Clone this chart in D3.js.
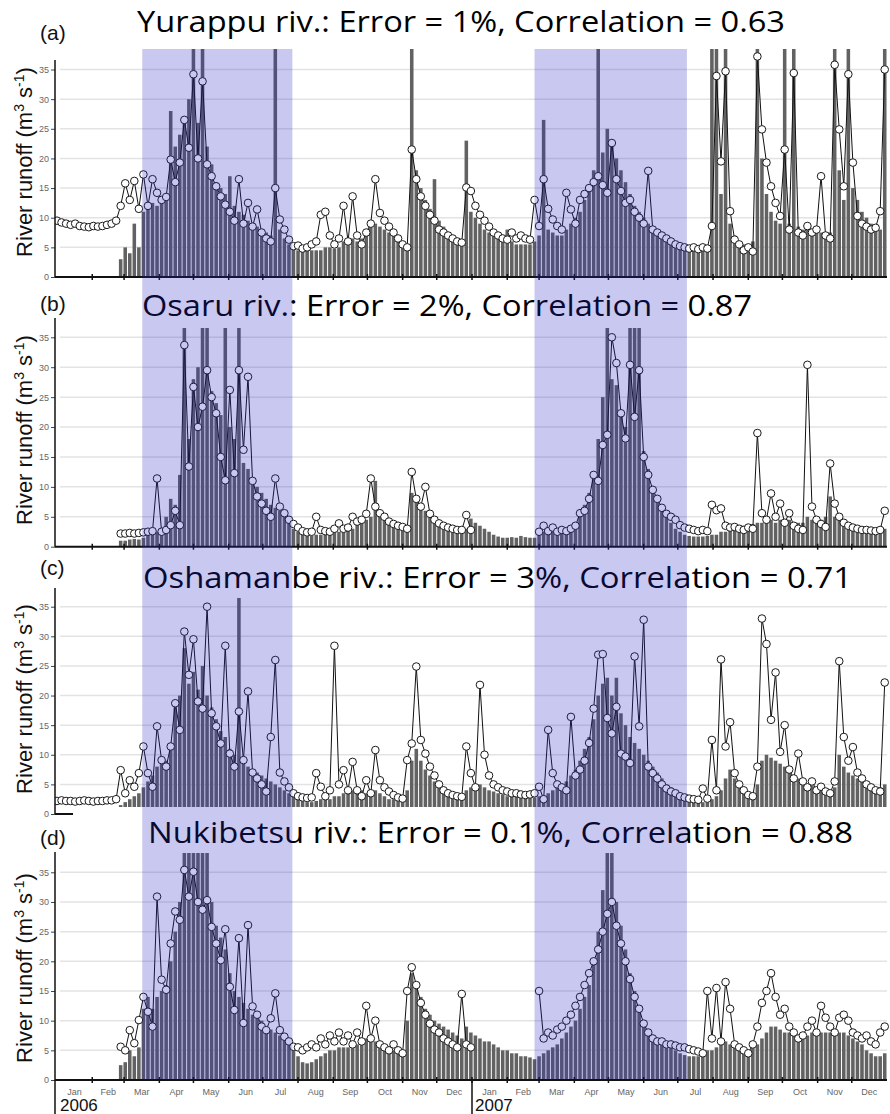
<!DOCTYPE html>
<html>
<head lang="en">
  <meta charset="UTF-8">
  <title>River runoff, observed vs modelled</title>
  <script src="https://cdn.jsdelivr.net/npm/d3@7"></script>
</head>
<style>
  body { margin: 0; background: #fff; }
  #chart text { font-family: "Liberation Sans", Arial, sans-serif; }
  #chart .title { font-family: "Open Sans", sans-serif; font-size: 29px; fill: #000; }
  #chart .ytick { font-size: 9px; fill: #666; }
  #chart .month { font-size: 9px; fill: #666; }
</style>
<body>

<svg id="chart" width="890" height="1114"></svg>

<script>
  // one value every 4 days, starting 1 Jan 2006
  var startDate = new Date(2006, 0, 1);
  var stepDays = 4;
  var yTicks = [0, 5, 10, 15, 20, 25, 30, 35];
  var years = ['2006', '2007'];
  var letters = ['(a)', '(b)', '(c)', '(d)'];
  var titles = [
    'Yurappu riv.: Error = 1%, Correlation = 0.63',
    'Osaru riv.: Error = 2%, Correlation = 0.87',
    'Oshamanbe riv.: Error = 3%, Correlation = 0.71',
    'Nukibetsu riv.: Error = 0.1%, Correlation = 0.88'
  ];
  var seasons = [
    [new Date(2006, 2, 17), new Date(2006, 6, 27)],
    [new Date(2007, 1, 25), new Date(2007, 6, 9)]
  ];

  // Yurappu: observed (circles) and modelled (bars)
  var aObs = [
    9.5, 9.2, 9, 8.8, 9, 8.6, 8.5, 8.4, 8.6, 8.5,
    8.6, 8.8, 9, 9.5, 12, 15.8, 13, 16.2, 11.5, 17.3,
    12, 16.5, 14.2, 13, 13.5, 19.8, 16, 19.3, 26.5, 21.8,
    34.2, 20, 33, 19, 17, 15.3, 13.6, 12.2, 11, 9.5,
    16.5, 9, 12.5, 8.5, 11.4, 7.5, 6.5, 6, 15, 9.7,
    8, 6.3, 5.2, 5.3, 4.8, 5, 5.5, 6, 10.5, 11,
    7, 5.5, 6.5, 12, 6, 13.6, 7, 5.5, 7.5, 9,
    16.5, 10.8, 9.5, 8.5, 7.5, 6.5, 5.5, 5, 21.5, 16.5,
    13.6, 12, 10.5, 9.5, 8, 7.5, 7, 6.5, 6, 5.8,
    15.1, 14.5, 12, 10.5, 9.5, 8.5, 7.5, 7, 6.5, 6.3,
    7.5, 6.5, 7, 6.5, 6.3, 13, 8.6, 16.5, 11.5, 9.7,
    8.6, 8, 14.2, 11.4, 9, 13, 14, 15, 16, 17,
    15.5, 14.2, 22.6, 16.5, 14.5, 12.5, 13, 11, 10, 9,
    17.9, 8, 7.5, 7, 6.5, 6, 5.5, 5.2, 5, 4.8,
    5, 4.7, 5, 4.8, 8.6, 33.9, 19.5, 34.7, 11.1, 6.3,
    5.5, 4.5, 5, 4.3, 37.2, 24.9, 19.3, 15.3, 12.5, 10.3,
    21.5, 8, 34.4, 7.5, 7, 8.6, 7.5, 8, 17, 7,
    6.5, 35.8, 24.9, 15.3, 34.2, 19.3, 10.3, 9, 8.5, 8,
    8.3, 11.1, 35
  ];
  var aMod = [
    null, null, null, null, null, null, null, null, null, null,
    null, null, null, null, 3, 5, 4, 9, 5, 11,
    12, 12.5, 12, 13, 14, 28, 22, 24, 27, 30,
    40, 26, 40, 22, 19, 16, 15, 14, 17, 12,
    11, 10.5, 9.5, 9, 8.5, 8, 7.5, 7, 40, 8,
    6.5, 5.5, 5, 4.5, 4.5, 4.5, 4.5, 4.5, 4.5, 5,
    5, 4.8, 5, 6, 5.5, 6.5, 6, 6.5, 7.5, 8.5,
    9, 8.5, 8, 7.5, 7, 6.5, 6, 5.5, 40, 18,
    15, 13, 11.5, 16.5, 9.5, 8.5, 7.5, 7, 6.5, 6,
    23, 11, 10, 9, 8, 7.5, 7, 6.5, 6, 8,
    6, 5.5, 5.5, 5.5, 5.5, 6, 7, 26.5, 8, 7.5,
    7, 7, 8, 9, 10, 11, 13, 15, 18, 40,
    21, 25, 23, 20, 18, 16, 14, 12, 11, 10,
    9, 8.5, 8, 7.5, 7, 6.5, 6, 5.5, 5, 4.5,
    4.5, 4.5, 4.5, 4.5, 40, 40, 14, 40, 9, 7,
    6, 5.5, 5.5, 6, 40, 20, 14, 11, 9.5, 9,
    40, 9, 40, 8.5, 8, 8, 7.5, 7.5, 7.5, 7.5,
    7.5, 40, 18, 13, 40, 15, 13, 11, 10, 9,
    8.5, 8, 40
  ];

  // Osaru
  var bObs = [
    null, null, null, null, null, null, null, null, null, null,
    null, null, null, null, 2.2, 2.2, 2.3, 2.2, 2.3, 2.4,
    2.5, 2.6, 11.4, 2.5, 2.8, 3.6, 6, 3.6, 33.7, 13.4,
    26.7, 20, 23.4, 29.5, 25, 22.3, 15, 11.1, 26.2, 12.3,
    29.5, 16.2, 28.4, 11, 8.4, 7.2, 6, 5, 11.4, 6.7,
    5.6, 4.5, 3.8, 3.2, 2.6, 2.4, 2.5, 5, 2.8, 2.6,
    2.5, 3, 3.9, 3, 3.2, 5, 4.2, 4.5, 5.5, 11.4,
    6.7, 5.6, 5, 4.2, 3.8, 3.5, 3.3, 3, 12.5, 8,
    6.7, 10, 5.5, 4.5, 3.9, 3.5, 3.2, 3, 2.8, 2.8,
    5.3, 2.8, null, null, null, null, null, null, null, null,
    null, null, null, null, null, null, 2.5, 3.5, 2.6, 3.2,
    2.5, 2.8, 2.6, 3, 3.5, 5.6, 6, 8, 12, 11,
    17, 18.7, 35, 30.7, 22.3, 18.1, 30.4, 21.7, 29.5, 15,
    12, 9.5, 8, 6.5, 5.5, 5, 4.5, 3.6, 3.2, 3,
    2.8, 2.6, 2.8, 2.6, 7, 6.1, 6.4, 3.5, 3.2, 3.3,
    3, 2.8, 3.2, 3, 19, 5.6, 4.5, 8.9, 5, 7.2,
    4, 5.6, 3.5, 3, 2.8, 30.4, 6.7, 4.5, 3.8, 3.3,
    13.9, 7.2, 5, 4, 3.5, 3.2, 3, 2.8, 2.8, 2.7,
    2.6, 2.8, 6
  ];
  var bMod = [
    null, null, null, null, null, null, null, null, null, null,
    null, null, null, null, 1, 1, 1.2, 1.3, 1.2, 1.5,
    2, 2, 2.5, 3, 5, 8, 7, 12, 40, 18,
    28, 30, 40, 40, 26, 24, 22, 40, 20, 18,
    40, 14, 13, 11, 10, 9, 8, 7, 6.5, 6,
    5, 4, 3, 2.5, 2, 1.8, 1.8, 2, 2, 2.2,
    2.3, 2.5, 2.5, 2.8, 3, 3, 4, 5, 4.5, 5,
    11, 6, 5, 4, 3.5, 3, 3, 3, 9, 8,
    7, 6, 5.5, 5, 4.5, 4, 3.5, 3, 2.8, 2.5,
    3, 4.7, 4, 3.5, 3, 2.5, 2, 1.7, 1.5, 1.5,
    1.6, 1.5, 1.8, 1.6, 1.5, 1.5, 2, 2.5, 2.2, 2.5,
    2.5, 2.8, 3, 3, 4, 6, 7, 9, 12, 18,
    25, 40, 28, 27, 22, 20, 40, 40, 40, 16,
    13, 10, 8, 6.5, 5, 4, 3, 2.5, 2, 1.8,
    1.7, 1.7, 1.7, 1.8, 2, 2, 2.5, 2.5, 3, 3,
    3.5, 3.5, 3.5, 3.8, 4, 4, 4.5, 4.5, 4, 4.5,
    4.5, 4.5, 4, 4, 4, 5, 4.5, 4.5, 4.5, 5,
    8.4, 5, 4.5, 4, 3.5, 3.3, 3, 3, 2.8, 2.8,
    3, 3.2, 3
  ];

  // Oshamanbe
  var cObs = [
    2.2, 2.3, 2.2, 2.2, 2.1, 2.2, 2.3, 2.2, 2.1, 2.2,
    2.2, 2.3, 2.3, 2.5, 7.4, 3.5, 5.7, 4.6, 6.9, 11.4,
    6.9, 4.6, 14.8, 9.1, 8, 11.4, 18.7, 14.2, 30.8, 23.5,
    29.5, 19, 17.8, 35, 17, 14.8, 11.9, 28.4, 10.2, 8,
    17.3, 9.1, 20.7, 7, 6, 5, 3.8, 13, 26, 7,
    5.5, 4.5, 3.5, 3, 2.8, 2.7, 2.8, 6.9, 4.6, 3,
    4, 28.4, 5, 7.4, 4, 8.8, 4, 3, 5.7, 3.5,
    10.8, 5.7, 4.5, 3.8, 3.2, 2.8, 2.6, 9.1, 11.9, 24.9,
    12.5, 10.2, 8, 6.5, 5, 4, 3.5, 3.2, 3, 2.9,
    11.4, 6.9, 4.5, 21.8, 10, 6.5, 5, 4.5, 4, 3.8,
    3.5, 3.5, 3.3, 3.2, 3.3, 3.5, 4.6, 2.5, 14.2, 6.9,
    5, 4.5, 4, 16.4, 6.5, 7.5, 9, 12, 17.8, 26.9,
    27, 16.2, 13.6, 18.1, 10.2, 9.7, 8.6, 26.6, 14.8, 32.8,
    8, 6.9, 6, 5, 4.3, 3.8, 3.5, 3, 2.8, 2.6,
    2.5, 2.4, 4.3, 2.6, 12.5, 4, 26.1, 11.4, 15.5, 6.9,
    5, 4, 3.2, 3, 8, 33, 28.7, 15.9, 23.9, 10.5,
    15, 7.5, 6, 10.2, 5.5, 4.5, 5.5, 4, 4.6, 3.8,
    3.5, 5.5, 25.8, 13, 9, 11.3, 7, 6, 5, 4.5,
    4, 3.8, 22.2
  ];
  var cMod = [
    null, null, null, null, null, null, null, null, null, null,
    null, null, null, null, 1.5, 2, 2.5, 3, 3.5, 4.5,
    5.5, 6.5, 8, 8.5, 9, 12, 18, 20, 28, 22,
    24, 21, 25, 20, 18, 16, 14, 13, 11, 10,
    40, 9, 8, 7.5, 7, 6.5, 6, 5.5, 5, 4.5,
    4, 3.5, 3, 2.5, 2.2, 2, 2, 2.2, 2.5, 2.5,
    2.5, 3, 3, 3.5, 3.5, 4, 4.5, 4, 3.5, 3.5,
    4, 3.5, 3, 2.5, 2.5, 2.2, 2.2, 4, 9, 11,
    9, 7.5, 6.5, 5.5, 5, 4.5, 4, 3.5, 3.2, 3,
    4, 4.5, 4, 5, 4.5, 4, 3.8, 3.5, 3.3, 3,
    3, 3, 2.8, 2.8, 2.8, 2.8, 3, 3, 3.5, 4,
    4.5, 5, 5.5, 6.5, 7.5, 9, 11, 13, 16, 20,
    22, 23, 20, 23, 17, 15, 13, 12, 11, 10,
    9, 8, 7, 6, 5, 4.5, 4, 3.5, 3, 2.5,
    2.2, 2, 2, 2, 2.5, 3, 4, 6, 7.5, 6,
    5, 4, 3.5, 3.5, 5, 9, 10, 9.5, 9, 8.5,
    8, 7, 6.5, 6, 5.5, 5, 4.8, 4.5, 4.5, 4.2,
    4, 4.5, 10, 8, 7, 6.5, 6, 5.5, 5, 4.8,
    4.5, 4.5, 5
  ];

  // Nukibetsu
  var dObs = [
    null, null, null, null, null, null, null, null, null, null,
    null, null, null, null, 5.6, 5, 8.4, 6.2, 10.1, 14,
    11.5, 9, 30.9, 16.9, 15.2, 23, 28.4, 27, 35.4, 30.9,
    35.1, 30, 28.7, 30.3, 25.8, 23, 20.2, 25.4, 15.7, 11.8,
    23.9, 9.6, 26.1, 12.4, 11, 9, 8.4, 10.4, 14.6, 8.4,
    7.3, 6.5, 5.6, 5.5, 5, 5.5, 6, 5.5, 7, 6,
    7.5, 6.5, 8, 6.5, 7.5, 6, 8, 6.5, 12.5, 7,
    10, 6, 5.5, 5, 6, 5, 4.5, 15, 19, 16,
    13, 11, 9.5, 8.5, 8, 7, 6.5, 6, 5.5, 14.5,
    6, 5.5, null, null, null, null, null, null, null, null,
    null, null, null, null, null, null, 15, 7, 8, 7.5,
    8.5, 9, 10, 11, 12.5, 14, 16, 18, 20, 22,
    25, 28, 30, 26, 23, 20, 17, 14, 12, 9.5,
    8, 7, 6.5, 6.5, 6, 6, 5.8, 5.5, 5.5, 5.2,
    5, 4.8, 4.5, 15, 7, 15.5, 6.5, 16.5, 12, 6,
    5.5, 5, 4.5, 6, 9, 13, 15, 18, 14, 11,
    12, 9, 8, 7, 7.5, 9, 10, 8, 12.5, 10.5,
    9, 8, 10.5, 11, 10, 8, 7.5, 7, 7.5, 6.5,
    6, 8, 9
  ];
  var dMod = [
    null, null, null, null, null, null, null, null, null, null,
    null, null, null, null, 2.5, 3, 5, 4, 5.5, 12,
    14, 12, 14, 15, 16, 20, 25, 30, 40, 40,
    40, 40, 40, 40, 30, 26, 24, 22, 18, 15,
    14, 13, 12, 11, 10.5, 10, 9, 8.5, 8, 7.5,
    7, 6, 5, 4, 3, 2.8, 3, 3.5, 4, 4.5,
    5, 5, 5.5, 5.5, 5.5, 5.5, 6, 6, 7, 6.5,
    6.5, 6, 5.5, 5, 5, 5, 5, 10, 18, 16,
    14, 12, 11, 10, 9.5, 9, 8.5, 8, 7.5, 7,
    9, 8, 7.5, 7, 6.5, 6.5, 6, 5.5, 5, 5,
    4.5, 4.5, 4, 4, 3.8, 3.5, 4, 4.5, 5, 5.5,
    6, 7, 8, 9, 10, 12, 14, 16, 20, 25,
    32, 40, 40, 30, 26, 22, 18, 15, 12, 10,
    8.5, 7.5, 7, 6.5, 6, 5.5, 5, 4.5, 4.2, 4,
    4, 4, 4, 5, 5, 5.5, 6, 6.5, 6, 5.5,
    5, 5, 5, 5.5, 6, 7, 8, 9, 9, 8.5,
    8, 8, 7.5, 7, 7, 7.5, 8, 8, 8, 8,
    8, 8, 8, 8, 7.5, 7, 6.5, 6, 5, 4.5,
    4, 4, 4.5
  ];

  // layout of the four stacked panels
  var panels = [
    { obs: aObs, mod: aMod, y0: 277,   y35: 69.5,  top: 49,  bottom: 277,   axisTop: 60,  fullAxis: true,  labelY: 162, titleY: 32,  titleX: 137, titleW: 648, letterY: 40 },
    { obs: bObs, mod: bMod, y0: 546.7, y35: 337.3, top: 328, bottom: 546.7, axisTop: 318, fullAxis: true,  labelY: 430, titleY: 316, titleX: 142, titleW: 610, letterY: 311 },
    { obs: cObs, mod: cMod, y0: 814,   y35: 606.7, top: 598, bottom: 807,   axisTop: 588, fullAxis: false, labelY: 699, titleY: 588, titleX: 143, titleW: 709, letterY: 575 },
    { obs: dObs, mod: dMod, y0: 1080,  y35: 872.3, top: 853, bottom: 1080,  axisTop: 852, fullAxis: true,  labelY: 968, titleY: 843, titleX: 148, titleW: 705, letterY: 845 }
  ];

  var chart = d3.select('#chart');
  var x = d3.scaleTime()
    .domain([startDate, new Date(2008, 0, 1)])
    .range([57, 887]);
  var monthStarts = d3.timeMonth.range(startDate, new Date(2008, 0, 1));
  var barW = x(d3.timeDay.offset(startDate, stepDays)) - x(startDate) - 1;

  function dateOf(i) {
    return d3.timeDay.offset(startDate, i * stepDays);
  }

  panels.forEach(function (p, k) {
    var y = d3.scaleLinear().domain([0, 35]).range([p.y0, p.y35]);
    var g = chart.append('g');

    // grid
    g.selectAll('line.grid')
      .data(yTicks.slice(1))
      .enter().append('line')
      .attr('x1', 60).attr('x2', 887)
      .attr('y1', y).attr('y2', y)
      .attr('stroke', '#e3e3e3').attr('stroke-width', 1.5);

    chart.append('clipPath').attr('id', 'clip' + k)
      .append('rect')
      .attr('x', 55).attr('y', p.top)
      .attr('width', 840).attr('height', p.bottom - p.top);

    var plot = g.append('g').attr('clip-path', 'url(#clip' + k + ')');

    var modData = p.mod.map(function (v, i) { return { v: v, date: dateOf(i) }; })
      .filter(function (d) { return d.v !== null; });
    var obsData = p.obs.map(function (v, i) { return { v: v, date: dateOf(i) }; });

    plot.selectAll('rect.bar')
      .data(modData)
      .enter().append('rect')
      .attr('x', function (d) { return x(d.date) - barW / 2; })
      .attr('width', barW)
      .attr('y', function (d) { return y(d.v); })
      .attr('height', function (d) { return p.y0 - y(d.v); })
      .attr('fill', '#626262');

    var line = d3.line()
      .defined(function (d) { return d.v !== null; })
      .x(function (d) { return x(d.date); })
      .y(function (d) { return y(d.v); });

    plot.append('path')
      .datum(obsData)
      .attr('d', line)
      .attr('fill', 'none')
      .attr('stroke', '#111')
      .attr('stroke-width', 1);

    plot.selectAll('circle')
      .data(obsData.filter(function (d) { return d.v !== null; }))
      .enter().append('circle')
      .attr('cx', function (d) { return x(d.date); })
      .attr('cy', function (d) { return y(d.v); })
      .attr('r', 3.8)
      .attr('fill', '#fff')
      .attr('stroke', '#1a1a1a')
      .attr('stroke-width', 1);

    // y axis
    var yAxis = d3.axisLeft(y).tickValues(yTicks).tickSize(4).tickPadding(2);
    var ya = g.append('g').attr('transform', 'translate(55,0)').call(yAxis);
    ya.select('.domain').remove();
    ya.selectAll('line').attr('stroke', '#444');
    ya.selectAll('text').attr('class', 'ytick').attr('font-family', null).attr('font-size', null);
    g.append('line')
      .attr('x1', 55).attr('x2', 55)
      .attr('y1', p.axisTop).attr('y2', k === 3 ? 1114 : p.y0)
      .attr('stroke', '#111').attr('stroke-width', 1.5);

    // x axis
    g.append('line')
      .attr('x1', 55).attr('x2', p.fullAxis ? 887 : 73)
      .attr('y1', p.y0).attr('y2', p.y0)
      .attr('stroke', '#111').attr('stroke-width', 2);
    if (p.fullAxis) {
      g.selectAll('line.mtick')
        .data(monthStarts.slice(1))
        .enter().append('line')
        .attr('x1', x).attr('x2', x)
        .attr('y1', p.y0 - 3).attr('y2', p.y0 + 3)
        .attr('stroke', '#111').attr('stroke-width', 1.5);
    }

    // y label
    var lab = g.append('text')
      .attr('transform', 'translate(32,' + p.labelY + ') rotate(-90)')
      .attr('text-anchor', 'middle')
      .attr('font-size', 22)
      .attr('fill', '#111');
    lab.append('tspan').text('River runoff (m');
    lab.append('tspan').attr('font-size', 14).attr('dy', -8).text('3');
    lab.append('tspan').attr('dy', 8).text(' s');
    lab.append('tspan').attr('font-size', 14).attr('dy', -8).text('-1');
    lab.append('tspan').attr('dy', 8).text(')');

    // panel letter and title
    chart.append('text')
      .attr('x', 40).attr('y', p.letterY)
      .attr('font-size', 21).attr('fill', '#111')
      .text(letters[k]);
    chart.append('text')
      .attr('class', 'title')
      .attr('x', p.titleX).attr('y', p.titleY)
      .attr('textLength', p.titleW)
      .attr('lengthAdjust', 'spacingAndGlyphs')
      .text(titles[k]);
  });

  // month labels and years under the last panel
  var last = panels[3];
  chart.selectAll('text.month')
    .data(monthStarts)
    .enter().append('text')
    .attr('class', 'month')
    .attr('x', function (d) { return (x(d) + x(d3.timeMonth.offset(d, 1))) / 2; })
    .attr('y', last.y0 + 15)
    .attr('text-anchor', 'middle')
    .text(d3.timeFormat('%b'));

  chart.append('line')
    .attr('x1', x(new Date(2007, 0, 1))).attr('x2', x(new Date(2007, 0, 1)))
    .attr('y1', last.y0).attr('y2', 1114)
    .attr('stroke', '#111').attr('stroke-width', 1.5);

  chart.selectAll('text.year')
    .data(years)
    .enter().append('text')
    .attr('x', function (d) { return x(new Date(+d, 0, 1)) + 3; })
    .attr('y', 1111)
    .attr('font-size', 17)
    .attr('fill', '#111')
    .text(function (d) { return d; });

  // calibration periods, drawn over everything
  chart.selectAll('rect.season')
    .data(seasons)
    .enter().append('rect')
    .attr('x', function (d) { return x(d[0]); })
    .attr('width', function (d) { return x(d[1]) - x(d[0]); })
    .attr('y', 49)
    .attr('height', 1079 - 49)
    .attr('fill', 'rgb(36,36,196)')
    .attr('opacity', 0.25);
</script>
</body>
</html>
